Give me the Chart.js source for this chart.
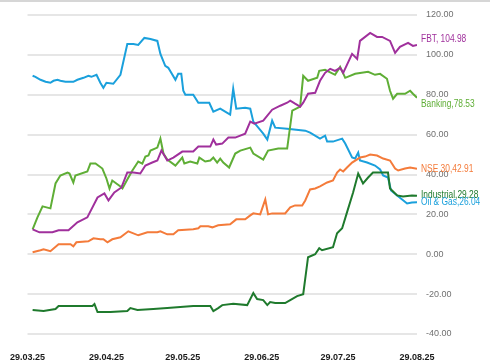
<!DOCTYPE html>
<html>
<head>
<meta charset="utf-8">
<script src="https://cdn.jsdelivr.net/npm/chart.js@4.4.1/dist/chart.umd.min.js"></script>
<style>
  html, body { margin: 0; padding: 0; background: #fff; }
</style>
</head>
<body>
<canvas id="chart" width="490" height="363"></canvas>
<script>
// x values are days since 29.03.25
const tickDays = [0, 31, 61, 92, 122, 153];
const tickLabels = ['29.03.25', '29.04.25', '29.05.25', '29.06.25', '29.07.25', '29.08.25'];

const seriesNames = ['FBT', 'Banking', 'NSE 30', 'Industrial', 'Oil & Gas'];
const endLabels = ['FBT, 104.98', 'Banking,78.53', 'NSE 30,42.91', 'Industrial,29.28', 'Oil & Gas,26.04'];

const fbtDays = [2, 4.7, 9.8, 12.2, 16.1, 19.6, 23.5, 27.5, 30.2, 31.8, 34.1, 36.9, 39.2, 41.6, 44.3, 46.3, 49, 51, 52.6, 54.9, 57.3, 60.8, 65.1, 67.1, 71.8, 73, 74.1, 76.5, 78.9, 81.6, 85.5, 87.5, 89.1, 92.6, 96.1, 99.3, 102, 103.2, 105.1, 107.1, 108.3, 110.2, 113, 114.9, 116.9, 118.9, 120.8, 122.8, 124, 127.5, 129.5, 130.6, 134.6, 137.3, 139.3, 142.4, 144.4, 146.3, 149.5, 151.4, 153];
const fbtValues = [12.5, 11, 11, 12, 12, 16, 18.5, 28.5, 30.5, 27, 31, 33.5, 41, 41, 40.5, 44.5, 46, 47, 52, 47, 48.5, 51.5, 51.5, 54, 54, 57.5, 55, 55.5, 58.5, 58.5, 60.5, 66.5, 65.5, 67, 72.5, 74.5, 76, 77, 75.5, 74, 76, 80.5, 81, 87, 91, 93, 92, 93.5, 91, 100.5, 98, 107, 111, 109, 109, 107, 101, 104, 106, 104.5, 104.98];

const bankingDays = [2, 3.9, 5.9, 9, 11, 12.9, 15.7, 16.5, 18, 18.8, 23.5, 24.7, 26.7, 29.4, 31, 32.2, 33.3, 36.5, 37.3, 39.2, 41.2, 43.5, 45.1, 46.3, 47.5, 48.3, 51, 52.2, 53.4, 54.9, 58.1, 60.8, 61.6, 63.9, 66.7, 67.5, 69.8, 71.8, 73, 74.5, 75.7, 76.9, 79.2, 81.6, 83.6, 87.5, 88.7, 92.6, 94.5, 98.5, 102, 104, 107.1, 108.3, 110.2, 113.8, 114.6, 116.9, 120.8, 122.8, 124.8, 128.7, 133.8, 136.5, 138.5, 141.2, 142.4, 143.6, 145.2, 148.3, 150.3, 151.4, 153];
const bankingValues = [12.5, 18.5, 24, 23, 35.5, 39.5, 41, 40.5, 36, 39.5, 41.5, 45.5, 45.5, 43, 38, 33, 37, 34, 33, 37.5, 42, 46.5, 45.5, 49, 49.5, 52, 53.5, 58, 50.5, 47.5, 44.5, 48.5, 45.5, 46.5, 45.5, 48.5, 46.5, 47, 48.5, 46, 48, 46, 43.5, 50.5, 52, 53.5, 50.5, 47.5, 52, 53, 53, 72, 74, 89.5, 87, 88.5, 92, 92.5, 90, 94, 88.5, 90.5, 91.5, 90, 90.5, 88, 82, 78, 80.5, 80.5, 82, 80.5, 78.53];

const nseDays = [2, 5.1, 6.3, 9, 12.2, 16.9, 18, 19.2, 23.9, 25.9, 28.6, 29.8, 31.4, 33.3, 36.5, 39.6, 43.5, 47.1, 51, 52.2, 54.9, 57.3, 59.2, 65.1, 67.1, 67.9, 71, 72.6, 74.9, 79.6, 82, 85.5, 87.5, 88.7, 91.4, 93.4, 94.5, 96.1, 101.2, 103.2, 105.1, 107.9, 109.1, 111, 113, 114.9, 117.7, 120, 121.6, 122.8, 124, 125.5, 127.5, 130.6, 132.6, 134.6, 137.3, 139.7, 142.4, 144.4, 145.6, 148.3, 150.3, 153];
const nseValues = [1, 2, 2.5, 1.5, 5, 5, 4, 6, 6.5, 8, 7.5, 7.5, 6, 7.5, 8.5, 11.5, 9.5, 11, 11, 11.5, 10, 10, 12, 12.5, 13, 14, 14, 13.5, 14.5, 15, 17.5, 17.5, 19.5, 20.5, 20, 27.5, 20, 20.5, 20.5, 23.5, 24.5, 24.5, 27, 32.5, 33, 34, 36, 37, 41, 42.5, 41.5, 43.5, 46, 48.5, 49, 50, 49.5, 48, 47, 43, 42, 43, 43.5, 42.91];

const industrialDays = [2, 6.3, 11, 12.2, 16.9, 25.5, 26.3, 27.5, 32.6, 39.2, 40.4, 43.2, 49.4, 54.9, 65.1, 71.8, 73, 74.9, 76.5, 80.8, 86.3, 88.7, 90.2, 92.6, 94.2, 95.3, 97.3, 101.2, 103.2, 105.9, 108.3, 110.2, 113, 114.6, 115.7, 120, 121.6, 123.6, 125.5, 127.9, 129.9, 131.8, 133.8, 135.7, 141.6, 142.4, 145.2, 147.5, 151, 153];
const industrialValues = [-28, -28.5, -27.5, -26, -26, -26, -25, -29, -29, -28.5, -27, -28, -27.5, -27, -26, -26, -28.5, -27, -25.5, -24.8, -25.5, -19.5, -22.5, -23, -25.5, -24, -24.5, -24.5, -23, -21, -20, -1.5, 0, 3, 2, 3.5, 10.5, 13, 21, 31, 40.5, 35.5, 38.5, 41, 41, 33, 29.5, 29, 29.5, 29.28];

const oilGasDays = [2, 3.1, 5.1, 7.1, 9, 10.2, 11.8, 12.9, 14.9, 18, 19.6, 22, 23.9, 25.1, 27.1, 28.6, 29.8, 31, 33.7, 36.5, 39.2, 41.6, 43.5, 45.9, 48.3, 51, 52.2, 54.1, 55.3, 58.1, 59.2, 60.4, 61.2, 62, 65.1, 67.1, 71.4, 73, 75.7, 79.6, 80.8, 82, 85.5, 87.5, 88.7, 92.6, 94.2, 96.1, 97.3, 102, 109.1, 111, 114.9, 116.9, 117.7, 120, 123.6, 124.8, 127.5, 128.7, 129.9, 130.6, 133.4, 136.5, 138.5, 139.7, 141.6, 142.8, 145.2, 149.1, 151, 153];
const oilGasValues = [89.5, 89, 87.5, 86.5, 86, 87, 87.5, 87, 86.5, 86.5, 87.5, 88.5, 89.5, 89, 90, 86, 83.5, 86, 85.5, 90, 105.5, 105.5, 105, 108.5, 108, 107, 100.5, 94.5, 93.5, 87.5, 90.5, 90.5, 82, 80, 80, 76, 76, 71.5, 73, 70, 83, 73, 73.5, 73, 66.5, 60.5, 57.5, 67, 63.5, 63, 62, 61, 58, 59.5, 56.5, 56.5, 58, 55.5, 48.5, 48, 51, 47, 46, 44.5, 42.5, 39.5, 38.5, 32, 29.5, 25.5, 26, 26.04];

const colors = ['#a0309c', '#5fae36', '#f47b3a', '#1f7a2d', '#1aa0dc'];
const labelOffsets = [-6, 6, 0, -1, 0];

function toPoints(days, values) {
  return days.map((d, i) => ({ x: d, y: values[i] }));
}

const allDays = [fbtDays, bankingDays, nseDays, industrialDays, oilGasDays];
const allValues = [fbtValues, bankingValues, nseValues, industrialValues, oilGasValues];

const tickFont = "'Liberation Sans', Arial, sans-serif";

// end-of-line labels, drawn squeezed to look like a narrow font
const endLabelPlugin = {
  id: 'endLabels',
  afterDraw(chart) {
    const ctx = chart.ctx;
    chart.data.datasets.forEach((ds, i) => {
      const meta = chart.getDatasetMeta(i);
      const last = meta.data[meta.data.length - 1];
      ctx.save();
      ctx.translate(last.x + 4, last.y + labelOffsets[i]);
      ctx.scale(0.8, 1);
      ctx.font = '10.5px ' + tickFont;
      ctx.textBaseline = 'middle';
      ctx.textAlign = 'left';
      ctx.fillStyle = colors[i];
      ctx.fillText(endLabels[i], 0, 0);
      ctx.restore();
    });
  }
};

const backgroundPlugin = {
  id: 'bg',
  beforeDraw(chart) {
    const ctx = chart.ctx;
    ctx.save();
    ctx.fillStyle = '#fff';
    ctx.fillRect(0, 0, chart.width, chart.height);
    ctx.strokeStyle = '#d6d6d6';
    ctx.lineWidth = 2;
    ctx.beginPath();
    ctx.moveTo(0, 1);
    ctx.lineTo(chart.width, 1);
    ctx.stroke();
    ctx.restore();
  }
};

const config = {
  type: 'line',
  data: {
    datasets: seriesNames.map((name, i) => ({
      label: name,
      data: toPoints(allDays[i], allValues[i]),
      borderColor: colors[i],
      borderWidth: 2,
      pointRadius: 0,
      tension: 0,
      fill: false
    }))
  },
  options: {
    responsive: false,
    animation: false,
    layout: { padding: { top: 15, left: 23, right: 0, bottom: 0 } },
    plugins: {
      legend: { display: false },
      tooltip: { enabled: false }
    },
    scales: {
      x: {
        type: 'linear',
        min: 0,
        max: 153,
        grid: { display: false },
        border: { display: false },
        afterBuildTicks: (scale) => { scale.ticks = tickDays.map(v => ({ value: v })); },
        afterFit: (scale) => { scale.height = 29; },
        ticks: {
          autoSkip: false,
          maxRotation: 0,
          padding: 10,
          color: '#1a1a1a',
          font: { family: tickFont, size: 9, weight: 'bold' },
          callback: (v) => tickLabels[tickDays.indexOf(v)]
        }
      },
      y: {
        position: 'right',
        min: -40,
        max: 120,
        afterFit: (scale) => { scale.width = 73; },
        grid: { color: '#e6e6e6', lineWidth: 2, drawTicks: false },
        border: { display: false },
        ticks: {
          stepSize: 20,
          padding: 9,
          color: '#707070',
          font: { family: tickFont, size: 9 },
          callback: (v) => v.toFixed(2)
        }
      }
    }
  },
  plugins: [backgroundPlugin, endLabelPlugin]
};

new Chart(document.getElementById('chart'), config);
</script>
</body>
</html>
